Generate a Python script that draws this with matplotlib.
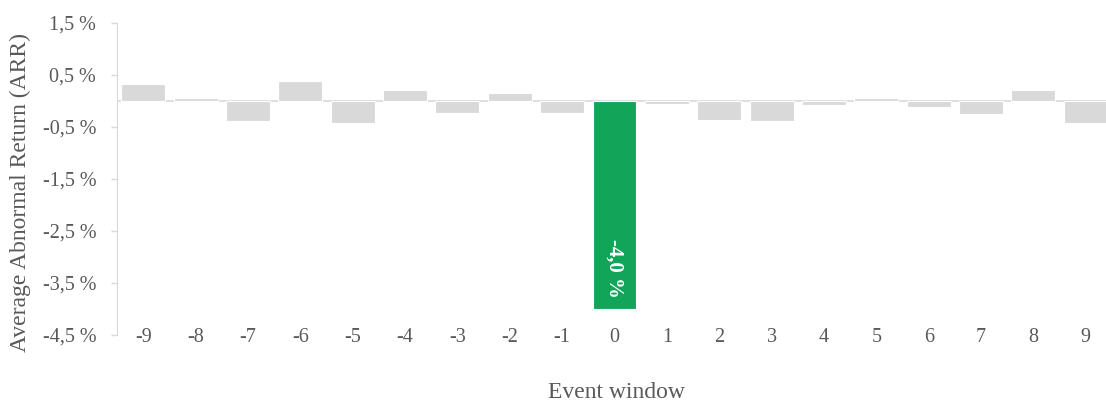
import numpy as np
import matplotlib.pyplot as plt

plt.rcParams['font.family'] = ['Liberation Serif', 'DejaVu Serif']

# event days and average abnormal returns (in %)
days = ['-9', '-8', '-7', '-6', '-5', '-4', '-3', '-2', '-1', '0',
        '1', '2', '3', '4', '5', '6', '7', '8', '9']
arr = [0.33, 0.05, -0.38, 0.39, -0.43, 0.21, -0.24, 0.15, -0.24, -4.0,
       -0.06, -0.36, -0.39, -0.07, 0.06, -0.11, -0.25, 0.22, -0.43]
yticks = [1.5, 0.5, -0.5, -1.5, -2.5, -3.5, -4.5]

grey = '#D9D9D9'
green = '#12A55A'
txt = '#595959'

fig = plt.figure(figsize=(11.06, 4.03), dpi=100)
ax = fig.add_axes([117/1106, (403-335)/403, (1112-117)/1106, (335-23)/403])

x = np.arange(len(days))
colors = [green if d == '0' else grey for d in days]
bars = ax.bar(x, arr, width=0.84, color=colors, edgecolor='white', linewidth=0.8, zorder=2)
ax.axhline(0, color=grey, linewidth=1.2, zorder=1)

# value label on the event day
i0 = days.index('0')
ax.text(x[i0], arr[i0] + 0.21, '%s %%' % ('%.1f' % arr[i0]).replace('.', ','),
        rotation=-90, ha='center', va='bottom', color='white',
        fontsize=15, fontweight='bold', zorder=3)

ax.set_xlim(-0.5, len(days) - 0.5)
ax.set_ylim(-4.5, 1.5)
ax.set_yticks(yticks)
ax.set_yticklabels([('%.1f %%' % v).replace('.', ',') for v in yticks])
ax.set_xticks(x)
ax.set_xticklabels(days)

for s in ['top', 'right', 'bottom']:
    ax.spines[s].set_visible(False)
ax.spines['left'].set_color(grey)
ax.tick_params(axis='y', colors=grey, length=4, width=1, labelcolor=txt, labelsize=14.5, pad=11)
ax.tick_params(axis='x', length=0, labelcolor=txt, labelsize=14.5, pad=-5)

fig.text(20/1106, 1 - 192/403, 'Average Abnormal Return (ARR)', rotation=90,
         ha='center', va='center', color=txt, fontsize=17)
fig.text(616/1106, 1 - 393/403, 'Event window', ha='center', va='center',
         color=txt, fontsize=17)

fig.savefig('out.png', dpi=100)
